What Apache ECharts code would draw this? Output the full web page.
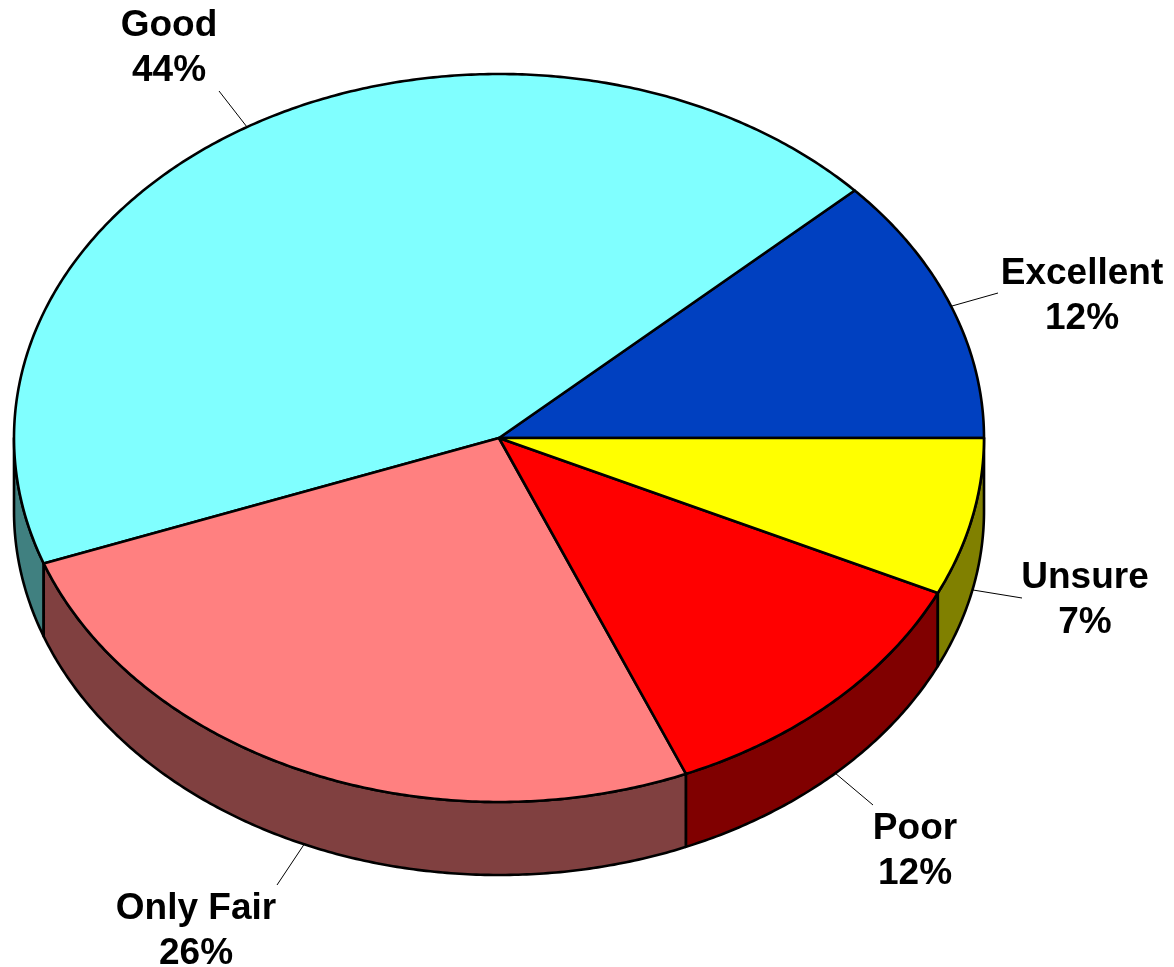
<!DOCTYPE html>
<html>
<head>
<meta charset="utf-8">
<style>html,body{margin:0;padding:0;background:#fff}#chart{width:1174px;height:967px}</style>
<script src="https://cdn.jsdelivr.net/npm/echarts@6/dist/echarts.min.js"></script>
</head>
<body>
<div id="chart"></div>
<script>
// Data read from the picture: slice sizes measured from the slice boundaries,
// which the printed labels show rounded (12, 44, 26, 12, 7).
var categories = ['Excellent', 'Good', 'Only Fair', 'Poor', 'Unsure'];
var shares = [11.9, 43.7, 25.7, 11.7, 7.0];

// Styling and layout, kept apart from the data
var topColors = ['#0040c0', '#80ffff', '#ff8080', '#ff0000', '#ffff00'];
var sideColors = ['#002060', '#408080', '#804040', '#800000', '#808000'];
var labelCentres = [[1082, 296], [169, 48], [196, 931.5], [915, 851.5], [1085, 600.5]];
var leaderLines = [
  [[952, 306], [998, 293]],
  [[219, 91], [247, 127]],
  [[305, 843], [277, 885]],
  [[835, 773], [873, 805]],
  [[973, 590], [1022, 598]]
];
var cx = 499, cy = 438, rx = 485, ry = 364, depth = 73;

var total = shares.reduce(function (a, b) { return a + b; }, 0);

function onEllipse(deg, dy) {
  var t = deg * Math.PI / 180;
  return [cx + rx * Math.cos(t), cy - ry * Math.sin(t) + (dy || 0)];
}
function arc(a0, a1, dy) {
  var pts = [], n = Math.max(2, Math.ceil(Math.abs(a1 - a0) * 2));
  for (var i = 0; i <= n; i++) pts.push(onEllipse(a0 + (a1 - a0) * i / n, dy));
  return pts;
}
function cumulative(idx) {
  var s = 0;
  for (var i = 0; i < idx; i++) s += shares[i];
  return s / total * 360;
}

function renderSlice(params, api) {
  var i = params.dataIndex;
  var a0 = cumulative(i);
  var a1 = a0 + api.value(0) / total * 360;
  var children = [];
  var s0 = Math.max(a0, 180), s1 = Math.min(a1, 360);
  if (s1 > s0) {
    children.push({
      type: 'polygon', z2: 1,
      shape: { points: arc(s0, s1, 0).concat(arc(s1, s0, depth)) },
      style: { fill: sideColors[i], stroke: '#000', lineWidth: 2.6, lineJoin: 'round' }
    });
  }
  children.push({
    type: 'polygon', z2: 2,
    shape: { points: [[cx, cy]].concat(arc(a0, a1, 0)) },
    style: { fill: topColors[i], stroke: '#000', lineWidth: 2.6, lineJoin: 'round' }
  });
  var L = leaderLines[i];
  children.push({
    type: 'line', z2: 3,
    shape: { x1: L[0][0], y1: L[0][1], x2: L[1][0], y2: L[1][1] },
    style: { stroke: '#000', lineWidth: 1 }
  });
  children.push({
    type: 'text', z2: 4,
    x: labelCentres[i][0], y: labelCentres[i][1],
    style: {
      text: categories[i] + '\n' + Math.round(api.value(0)) + '%',
      fill: '#000',
      font: 'bold 37px "Liberation Sans", Arial, sans-serif',
      lineHeight: 45,
      align: 'center',
      verticalAlign: 'middle'
    }
  });
  return { type: 'group', children: children };
}

var chart = echarts.init(document.getElementById('chart'), null, { renderer: 'canvas' });
chart.setOption({
  backgroundColor: '#ffffff',
  animation: false,
  series: [{
    type: 'custom',
    coordinateSystem: 'none',
    renderItem: renderSlice,
    silent: true,
    data: shares.map(function (v, i) { return { name: categories[i], value: [v] }; })
  }]
});
</script>
</body>
</html>
